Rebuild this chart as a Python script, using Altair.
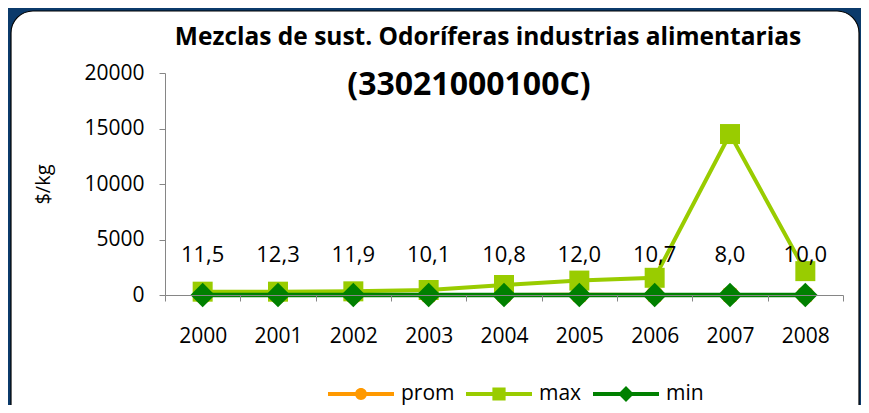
import altair as alt
import pandas as pd

years = ["2000", "2001", "2002", "2003", "2004", "2005", "2006", "2007", "2008"]
prom = [11.5, 12.3, 11.9, 10.1, 10.8, 12.0, 10.7, 8.0, 10.0]
maxv = [300, 300, 330, 450, 900, 1300, 1550, 14500, 2150]
minv = [4, 4, 4, 3, 3, 4, 3, 2, 3]
series = ["prom", "max", "min"]
colors = ["#FF9900", "#99CC00", "#008000"]
title_text = "Mezclas de sust. Odoríferas industrias alimentarias"
subtitle_text = "(33021000100C)"

FONT = "Open Sans"

df = pd.DataFrame({"year": years, "prom": prom, "max": maxv, "min": minv})
df["label"] = [f"{v:.1f}".replace(".", ",") for v in prom]

x_enc = alt.X(
    "year:N",
    sort=years,
    title=None,
    scale=alt.Scale(paddingInner=0, paddingOuter=0),
    axis=alt.Axis(
        labelFontSize=21, labelFont=FONT, labelColor="#000000", labelPadding=24,
        tickBand="extent", tickSize=6, tickColor="#868686", domainColor="#868686",
        labelAngle=0, grid=False, zindex=2,
    ),
)
y_scale = alt.Scale(domain=[0, 20000])
y_axis = alt.Axis(
    values=[0, 5000, 10000, 15000, 20000], format="d", labelFontSize=21, labelFont=FONT,
    labelColor="#000000", tickSize=6, tickColor="#868686", domainColor="#868686",
    grid=False, title="$/kg", titleFont=FONT, titleFontSize=20,
    titleFontWeight="normal", titleColor="#000000", titlePadding=30, labelPadding=15,
    zindex=2,
)

color_scale = alt.Scale(domain=series, range=colors)

# background frame (decorative)
frame = alt.Chart(pd.DataFrame({"a": [0]})).mark_rect(
    color="white", stroke="black", strokeWidth=1.2, cornerRadius=22
).encode(
    x=alt.value(-154), x2=alt.value(694), y=alt.value(-62), y2=alt.value(360)
)

def series_layers(name, shape, size, sw):
    base = alt.Chart(df)
    line = base.mark_line(strokeWidth=sw, color=colors[series.index(name)]).encode(
        x=x_enc, y=alt.Y(f"{name}:Q", scale=y_scale, axis=y_axis)
    )
    pts = base.mark_point(shape=shape, size=size, filled=True, opacity=1,
                          color=colors[series.index(name)]).encode(
        x=x_enc, y=alt.Y(f"{name}:Q", scale=y_scale, axis=y_axis)
    )
    return line + pts

prom_l = series_layers("prom", "circle", 320, 4)
max_l = series_layers("max", "square", 400, 4)
min_l = series_layers("min", "diamond", 600, 4.5)

labels = alt.Chart(df).mark_text(
    fontSize=22, font=FONT, color="#000000", dy=-40, baseline="middle"
).encode(x=x_enc, y=alt.Y("prom:Q", scale=y_scale, axis=y_axis), text="label:N")

title_df = pd.DataFrame({"t": [title_text]})
title_mark = alt.Chart(title_df).mark_text(
    fontSize=24.5, font=FONT, fontWeight="bold", color="#000000", baseline="middle"
).encode(x=alt.value(323), y=alt.value(-35), text="t:N")

subtitle = alt.Chart(pd.DataFrame({"t": [subtitle_text]})).mark_text(
    fontSize=32, font=FONT, fontWeight="bold", color="#000000", baseline="middle"
).encode(x=alt.value(304), y=alt.value(12), text="t:N")

# legend-only layer: symbols combine a line with the marker
line_p = "M-1,-0.06 L1,-0.06 L1,0.06 L-1,0.06 Z "
paths = [
    line_p + "M-0.18,0 A0.18,0.18 0 1,1 0.18,0 A0.18,0.18 0 1,1 -0.18,0 Z",
    line_p + "M-0.2,-0.2 L0.2,-0.2 L0.2,0.2 L-0.2,0.2 Z",
    line_p + "M0,-0.24 L0.24,0 L0,0.24 L-0.24,0 Z",
]
leg_df = pd.DataFrame({"serie": series, "year": years[:3], "v": [0, 0, 0]})
legend_layer = alt.Chart(leg_df).transform_filter("false").mark_point(
    filled=True, opacity=1
).encode(
    x=x_enc,
    y=alt.Y("v:Q", scale=y_scale, axis=y_axis),
    color=alt.Color("serie:N", scale=color_scale, legend=alt.Legend(
        title=None, orient="none", legendX=163, legendY=288, direction="horizontal",
        symbolSize=4356, symbolStrokeWidth=0, labelFontSize=21, labelFont=FONT,
        labelColor="#000000", labelOffset=7, columnPadding=11, symbolOpacity=1,
    )),
    shape=alt.Shape("serie:N", scale=alt.Scale(domain=series, range=paths)),
)

chart = alt.layer(
    frame, prom_l, max_l, min_l, labels, title_mark, subtitle, legend_layer
).properties(
    width=678, height=222,
    padding={"left": 157, "top": 65, "right": 18, "bottom": 110},
    autosize=alt.AutoSizeParams(type="none"),
    background="#0B3A6B",
).configure_view(stroke=None)

chart.save("out.html", embed_options={"renderer": "svg", "actions": False})
